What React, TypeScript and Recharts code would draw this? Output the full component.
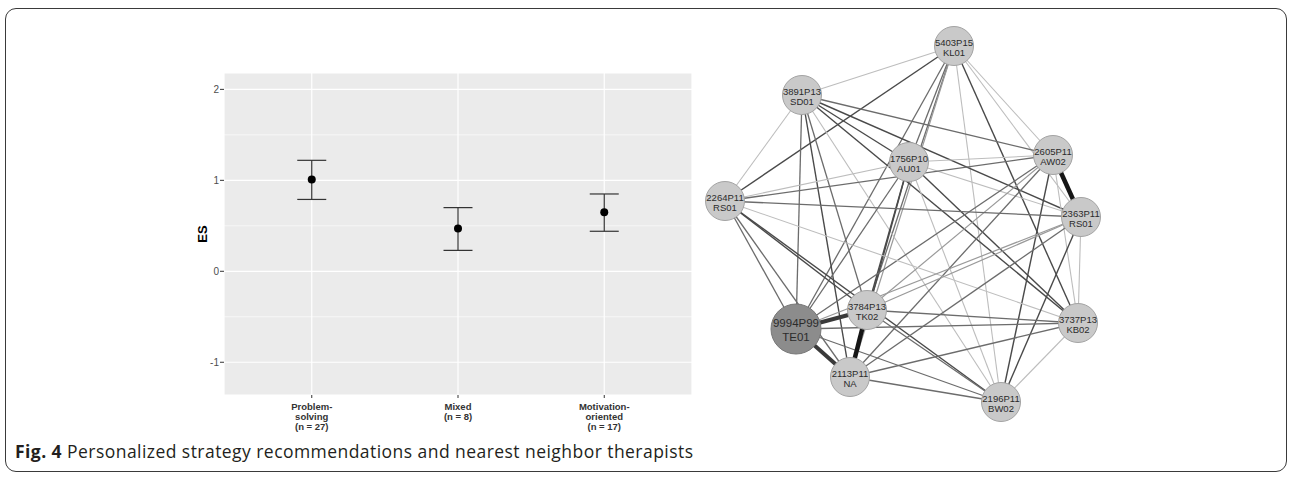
import React from 'react'
import { ComposedChart, ScatterChart, Scatter, ErrorBar, XAxis, YAxis, CartesianGrid, ReferenceLine } from 'recharts'

// left panel: effect size per recommended strategy
const strategies = ['Problem-\nsolving\n(n = 27)', 'Mixed\n(n = 8)', 'Motivation-\noriented\n(n = 17)']
const esMean = [1.01, 0.47, 0.65]
const esLower = [0.79, 0.23, 0.44]
const esUpper = [1.22, 0.7, 0.85]
const esTicks = [-1, 0, 1, 2]
const esMinorTicks = [-0.5, 0.5, 1.5]

// right panel: nearest neighbor therapists (layout coordinates from the graph drawing)
const therapistIds = [
  '5403P15\nKL01', '3891P13\nSD01', '1756P10\nAU01', '2605P11\nAW02', '2264P11\nRS01', '2363P11\nRS01',
  '9994P99\nTE01', '3784P13\nTK02', '2113P11\nNA', '3737P13\nKB02', '2196P11\nBW02',
]
const layoutX = [264, 112, 219, 363, 35, 391, 106, 177, 160, 388, 311]
const layoutY = [26, 75, 142, 135, 181, 197, 309, 290, 357, 303, 382]
const queryTherapist = '9994P99\nTE01'
// [from, to, similarity 1..6]
const neighborLinks: [number, number, number][] = [
  [0, 1, 1], [0, 2, 3], [0, 3, 1], [0, 4, 4], [0, 5, 1], [0, 6, 3], [0, 7, 3], [0, 8, 2], [0, 9, 4], [0, 10, 1],
  [1, 2, 4], [1, 3, 3], [1, 4, 1], [1, 5, 4], [1, 6, 3], [1, 7, 3], [1, 8, 4], [1, 9, 4], [1, 10, 1],
  [2, 3, 1], [2, 4, 1], [2, 5, 1], [2, 6, 3], [2, 7, 4], [2, 8, 4], [2, 9, 4], [2, 10, 1],
  [3, 4, 3], [3, 5, 6], [3, 6, 3], [3, 7, 2], [3, 8, 3], [3, 9, 1], [3, 10, 4],
  [4, 5, 3], [4, 6, 3], [4, 7, 4], [4, 8, 3], [4, 9, 1], [4, 10, 4],
  [5, 6, 2], [5, 7, 2], [5, 8, 3], [5, 9, 1], [5, 10, 4],
  [6, 7, 5], [6, 8, 5], [6, 9, 3], [6, 10, 3],
  [7, 8, 6], [7, 9, 3], [7, 10, 3],
  [8, 9, 3], [8, 10, 3],
  [9, 10, 1],
]

const linkColor = ['', '#bdbdbd', '#9a9a9a', '#6c6c6c', '#4a4a4a', '#3a3a3a', '#161616']
const linkWidth = [0, 1.1, 1.2, 1.3, 1.4, 4, 4.5]

const esRows = strategies.map((s, i) => ({
  pos: i + 1,
  es: esMean[i],
  err: [esMean[i] - esLower[i], esUpper[i] - esMean[i]],
}))

const nodes = therapistIds.map((id, i) => ({ x: layoutX[i], y: layoutY[i], id, self: id === queryTherapist }))

const sans = '"Liberation Sans", Arial, sans-serif'

function StrategyTick({ x, y, payload }: any) {
  const lines = strategies[payload.value - 1].split('\n')
  return (
    <text x={x} y={y} textAnchor="middle" fontFamily={sans} fontWeight="bold" fontSize={9.5} fill="#333">
      {lines.map((l, i) => <tspan key={i} x={x} dy={i === 0 ? 9.5 : 10}>{l}</tspan>)}
    </text>
  )
}

function MeanDot({ cx, cy }: any) {
  return <circle cx={cx} cy={cy} r={4} fill="#000" />
}

function TherapistNode({ cx, cy, payload }: any) {
  const big = payload.self
  const [code, name] = payload.id.split('\n')
  return (
    <g>
      <circle cx={cx} cy={cy} r={big ? 25 : 19.5} fill={big ? '#8c8c8c' : '#c9c9c9'} stroke={big ? '#777' : '#a3a3a3'} strokeWidth={1} />
      <text textAnchor="middle" fontFamily={sans} fontSize={big ? 11.5 : 9.5} fill="#2b2b2b">
        <tspan x={cx} y={cy + (big ? -1.9 : 0)}>{code}</tspan>
        <tspan x={cx} y={cy + (big ? 11.6 : 9.7)}>{name}</tspan>
      </text>
    </g>
  )
}

const noShape = () => <g />

export default function App() {
  return (
    <div style={{ position: 'absolute', left: 0, top: 0, width: 1292, height: 479, background: '#fff', overflow: 'hidden' }}>
      <div style={{ position: 'absolute', left: 5, top: 8, width: 1280, height: 462, border: '1.5px solid #3a3a3a', borderRadius: 11 }} />

      <div style={{ position: 'absolute', left: 180, top: 60 }}>
        <ComposedChart width={530} height={390} data={esRows} margin={{ top: 13, right: 18, bottom: 10, left: 0 }}>
          <CartesianGrid fill="#ebebeb" fillOpacity={1} stroke="#fff" strokeWidth={1.2} />
          {esMinorTicks.map((v) => <ReferenceLine key={v} y={v} stroke="#fff" strokeWidth={0.6} />)}
          <XAxis type="number" dataKey="pos" domain={[0.4, 3.6]} ticks={[1, 2, 3]} interval={0} height={45}
            tick={<StrategyTick />} tickSize={3} tickMargin={2} axisLine={false} stroke="#333" />
          <YAxis type="number" dataKey="es" domain={[-1.36, 2.18]} ticks={esTicks} interval={0} width={44}
            allowDataOverflow tickSize={4} tickMargin={1} axisLine={false} stroke="#333"
            tick={{ fill: '#4d4d4d', fontSize: 10, fontFamily: sans }}
            label={{ value: 'ES', angle: -90, position: 'center', style: { fontFamily: sans, fontWeight: 'bold', fontSize: 13, fill: '#000' } }} />
          <Scatter dataKey="es" shape={<MeanDot />} isAnimationActive={false}>
            <ErrorBar dataKey="err" direction="y" width={14.5} stroke="#333" strokeWidth={1.2} />
          </Scatter>
        </ComposedChart>
      </div>

      <div style={{ position: 'absolute', left: 690, top: 20 }}>
        <ScatterChart width={420} height={420} margin={{ top: 0, right: 0, bottom: 0, left: 0 }}>
          <XAxis type="number" dataKey="x" domain={[0, 420]} hide />
          <YAxis type="number" dataKey="y" domain={[0, 420]} reversed hide />
          {neighborLinks.map(([a, b, w], k) => (
            <Scatter key={k} data={[nodes[a], nodes[b]]} fill={linkColor[w]} shape={noShape}
              line={{ stroke: linkColor[w], strokeWidth: linkWidth[w] }} isAnimationActive={false} />
          ))}
          <Scatter data={nodes} shape={<TherapistNode />} isAnimationActive={false} />
        </ScatterChart>
      </div>

      <div style={{ position: 'absolute', left: 15, top: 439, fontFamily: '"Open Sans", sans-serif', fontSize: 17.5, letterSpacing: 0.45, lineHeight: '24px', color: '#231f20', whiteSpace: 'nowrap' }}>
        <b>Fig. 4</b> Personalized strategy recommendations and nearest neighbor therapists
      </div>
    </div>
  )
}
